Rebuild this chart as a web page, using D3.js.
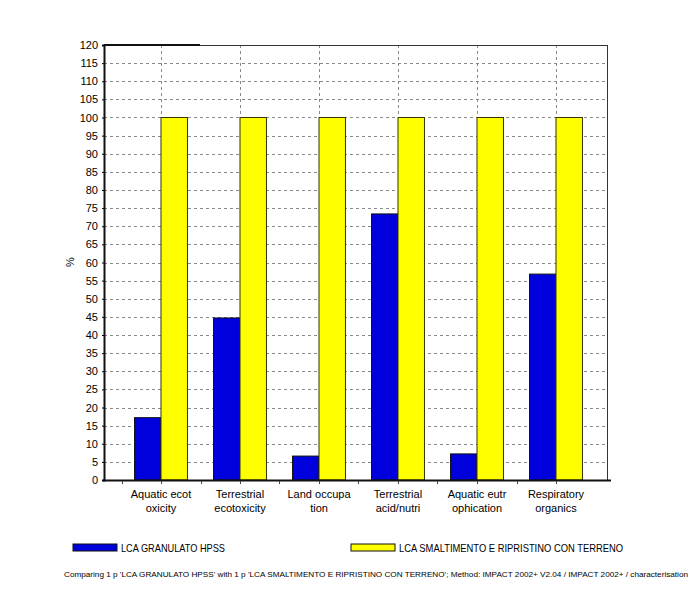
<!DOCTYPE html>
<html><head><meta charset="utf-8">
<script src="https://cdn.jsdelivr.net/npm/d3@7"></script>
<style>body{margin:0;background:#fff}svg{display:block}text{font-family:"Liberation Sans",Arial,sans-serif;fill:#000}</style>
</head><body><svg id="c" width="697" height="595"></svg>
<script>
const categories = [["Aquatic ecot","oxicity"],["Terrestrial","ecotoxicity"],["Land occupa","tion"],["Terrestrial","acid/nutri"],["Aquatic eutr","ophication"],["Respiratory","organics"]];
const seriesNames = ["LCA GRANULATO HPSS","LCA SMALTIMENTO E RIPRISTINO CON TERRENO"];
const granulato = [17.2, 44.7, 6.6, 73.4, 7.2, 56.8];
const smaltimento = [100, 100, 100, 100, 100, 100];
const yTicks = d3.range(0, 121, 5);
const footer = "Comparing 1 p 'LCA GRANULATO HPSS' with 1 p 'LCA SMALTIMENTO E RIPRISTINO CON TERRENO';  Method: IMPACT 2002+ V2.04 /  IMPACT 2002+ / characterisation";
const colors = ["#0000dd", "#ffff00"];

const svg = d3.select("#c");
const L = 104, R = 607, T = 45, B = 480;
const idx = d3.range(categories.length);
const x = d3.scaleBand().domain(idx).range([121.5, 595.5]).paddingInner(0.33).paddingOuter(0.165);
const y = d3.scaleLinear().domain([0, 120]).range([B, T]);
const step = x.step(), bw = x.bandwidth() / 2;
const cx = i => x(i) + x.bandwidth() / 2;

// horizontal grid
svg.append("g").selectAll("line").data(yTicks.filter(d => d > 0)).join("line")
  .attr("x1", L).attr("x2", R).attr("y1", d => Math.round(y(d)) + 0.5).attr("y2", d => Math.round(y(d)) + 0.5)
  .attr("stroke", "#8a8a8a").attr("stroke-dasharray", "3,3");
// vertical grid at category centers
svg.append("g").selectAll("line").data(idx).join("line")
  .attr("x1", d => Math.round(cx(d)) + 0.5).attr("x2", d => Math.round(cx(d)) + 0.5).attr("y1", T).attr("y2", B)
  .attr("stroke", "#8a8a8a").attr("stroke-dasharray", "3,3");

// frame top/right
svg.append("line").attr("x1", L).attr("x2", R).attr("y1", T + 0.5).attr("y2", T + 0.5).attr("stroke", "#333");
svg.append("line").attr("x1", L).attr("x2", 200).attr("y1", T).attr("y2", T).attr("stroke", "#111").attr("stroke-width", 2);
svg.append("line").attr("x1", R + 0.5).attr("x2", R + 0.5).attr("y1", T).attr("y2", B).attr("stroke", "#333");

// bars
const g = svg.append("g");
g.selectAll("rect.b").data(granulato).join("rect").attr("class", "b")
  .attr("x", (d, i) => cx(i) - bw).attr("width", bw).attr("y", d => y(d)).attr("height", d => B - y(d))
  .attr("fill", colors[0]).attr("stroke", "#111").attr("stroke-width", 1);
g.selectAll("rect.y").data(smaltimento).join("rect").attr("class", "y")
  .attr("x", (d, i) => cx(i)).attr("width", bw).attr("y", d => y(d)).attr("height", d => B - y(d))
  .attr("fill", colors[1]).attr("stroke", "#333300").attr("stroke-width", 1);

// y axis
const ya = svg.append("g").attr("transform", `translate(${L},0)`)
  .call(d3.axisLeft(y).tickValues(yTicks).tickSize(2).tickPadding(4));
ya.select(".domain").attr("stroke", "#111").attr("stroke-width", 2);
ya.selectAll("text").attr("font-size", 11).style("font-family", "Liberation Sans, Arial, sans-serif");

// x axis
svg.append("line").attr("x1", L - 1).attr("x2", R + 4).attr("y1", B + 0.5).attr("y2", B + 0.5).attr("stroke", "#111").attr("stroke-width", 2);
const xt = [];
idx.forEach(i => { xt.push(cx(i)); xt.push(cx(i) - step / 2); });
svg.append("g").selectAll("line").data(xt).join("line")
  .attr("x1", d => Math.round(d) + 0.5).attr("x2", d => Math.round(d) + 0.5).attr("y1", B + 1).attr("y2", B + 4).attr("stroke", "#444");
const lab = svg.append("g").selectAll("text").data(categories).join("text")
  .attr("x", (d, i) => cx(i)).attr("y", 498).attr("text-anchor", "middle").attr("font-size", 11);
lab.append("tspan").attr("x", (d, i) => cx(i)).text(d => d[0]);
lab.append("tspan").attr("x", (d, i) => cx(i)).attr("dy", 14).text(d => d[1]);

// y label
svg.append("text").attr("transform", "translate(74,262) rotate(-90)").attr("text-anchor", "middle").attr("font-size", 11).text("%");

// legend
const legX = [73, 351];
const legW = [104, 224];
seriesNames.forEach((n, i) => {
  svg.append("rect").attr("x", legX[i]).attr("y", 544).attr("width", 44).attr("height", 7)
    .attr("fill", colors[i]).attr("stroke", "#111").attr("stroke-width", 1);
  svg.append("text").attr("x", legX[i] + 48).attr("y", 552).attr("font-size", 10.5)
    .attr("textLength", legW[i]).attr("lengthAdjust", "spacingAndGlyphs").text(n);
});

// footer
svg.append("text").attr("x", 64).attr("y", 577).attr("font-size", 7.9)
  .attr("textLength", 624).attr("lengthAdjust", "spacingAndGlyphs").text(footer);
</script></body></html>
